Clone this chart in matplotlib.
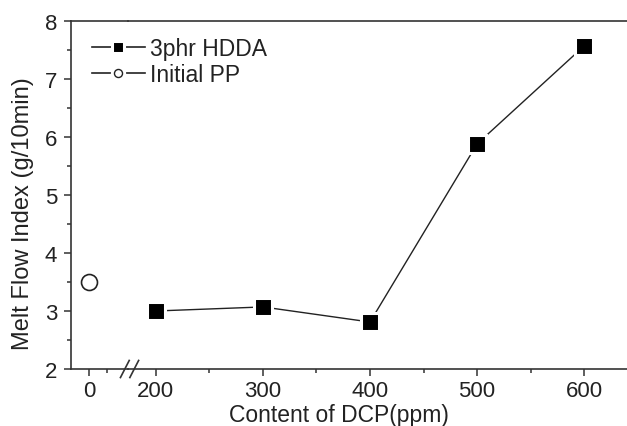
import matplotlib
matplotlib.use('Agg')
import matplotlib.pyplot as plt
from matplotlib.lines import Line2D
from matplotlib.legend_handler import HandlerTuple
from matplotlib.ticker import MultipleLocator, FixedLocator

plt.rcParams['font.family'] = ['Liberation Sans', 'DejaVu Sans']

# data
dcp = [200, 300, 400, 500, 600]
mfi_hdda = [3.0, 3.07, 2.81, 5.88, 7.57]
dcp_pp = [0]
mfi_pp = [3.5]

ink = '#222222'
spine_c = '#333333'
fs = 16

fig = plt.figure(figsize=(6.27, 4.27), dpi=100)
axL = fig.add_axes([0.1132, 0.1335, 0.0909, 0.815])
axR = fig.add_axes([0.2041, 0.1335, 0.7959, 0.815], sharey=axL)

# left segment (Initial PP)
axL.plot(dcp_pp, mfi_pp, '-', color=ink, lw=1, marker='o', ms=11.5,
         mfc='white', mec=ink, mew=1.2)
# right segment (3phr HDDA), white edge gives the gap between line and marker
axR.plot(dcp, mfi_hdda, '-', color=ink, lw=1, marker='s', ms=12.4,
         mfc='black', mec='white', mew=2.2)

axL.set_xlim(-10, 21.7)
axR.set_xlim(174, 640)
axL.set_ylim(2, 8)

axL.xaxis.set_major_locator(FixedLocator([0]))
axL.xaxis.set_minor_locator(FixedLocator([10]))
axR.xaxis.set_major_locator(MultipleLocator(100))
axR.xaxis.set_minor_locator(MultipleLocator(50))
axL.yaxis.set_major_locator(MultipleLocator(1))
axL.yaxis.set_minor_locator(MultipleLocator(0.5))

for ax in (axL, axR):
    ax.spines['right'].set_visible(False)
    for s in ('top', 'bottom', 'left'):
        ax.spines[s].set_color(spine_c)
        ax.spines[s].set_linewidth(1.2)
    ax.tick_params(which='major', direction='out', length=5, width=1.1,
                   color=spine_c, labelsize=fs, labelcolor=ink, pad=3)
    ax.tick_params(which='minor', direction='out', length=3, width=1.1,
                   color=spine_c)
    ax.set_facecolor('none')
axL.tick_params(axis='y', which='major', pad=5)

axR.spines['left'].set_visible(False)
axR.tick_params(axis='y', which='both', left=False, labelleft=False)

fig.text(0.037, 0.50, 'Melt Flow Index (g/10min)', fontsize=17, color=ink,
         rotation=90, ha='center', va='center')
fig.text(0.5407, 0.0117, 'Content of DCP(ppm)', fontsize=16.5, color=ink,
         ha='center', va='baseline')

# axis break marks
for dx in (-0.005, 0.010):
    fig.add_artist(Line2D([0.2041 + dx - 0.007, 0.2041 + dx + 0.007],
                          [0.1335 - 0.02, 0.1335 + 0.02],
                          color=spine_c, lw=1.2))

# legend (Origin style: line - marker - line with small gaps)
h_hdda = (Line2D([], [], color=ink, lw=1.2),
          Line2D([], [], ls='none', marker='s', ms=8.7, mfc='black',
                 mec='white', mew=2.2))
h_pp = (Line2D([], [], color=ink, lw=1.2),
        Line2D([], [], ls='none', marker='o', ms=10, mfc='white', mec='white'),
        Line2D([], [], ls='none', marker='o', ms=5.8, mfc='white', mec=ink,
               mew=1))
leg = fig.legend([h_hdda, h_pp], ['3phr HDDA', 'Initial PP'],
                 handler_map={tuple: HandlerTuple(ndivide=1)},
                 loc='upper left', bbox_to_anchor=(0.1467, 0.911),
                 frameon=False, fontsize=16.5, handlelength=2.3,
                 handletextpad=0.25, labelspacing=0.12, borderaxespad=0,
                 borderpad=0)
for t in leg.get_texts():
    t.set_color(ink)

fig.savefig('out.png', dpi=100)
